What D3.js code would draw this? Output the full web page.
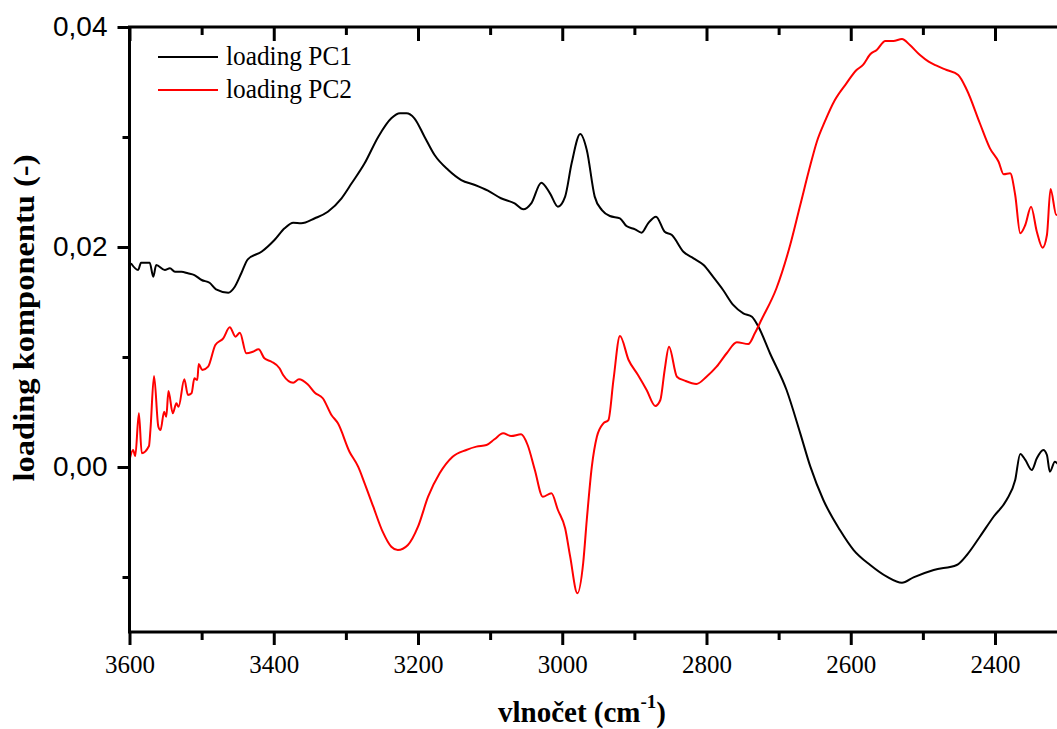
<!DOCTYPE html>
<html lang="cs">
<head>
<meta charset="UTF-8">
<title>loading PC1 / PC2</title>
<script src="https://cdn.jsdelivr.net/npm/d3@7"></script>
<style>
  body { margin: 0; background: #fff; }
  svg { display: block; }
</style>
</head>
<body>
<script>
// wavenumbers (cm-1) and loadings
let pc1Wn = [3598, 3588, 3584, 3572, 3567, 3563, 3551, 3544, 3537, 3528, 3519, 3510, 3500, 3489, 3480,
  3463, 3454, 3445, 3436, 3417, 3399, 3385, 3373, 3362, 3343, 3325, 3306, 3292, 3274, 3255, 3237, 3225,
  3216, 3205, 3191, 3177, 3158, 3140, 3121, 3103, 3085, 3066, 3054, 3043, 3029, 3017, 3006, 2996, 2987,
  2975, 2966, 2955, 2945, 2934, 2920, 2911, 2899, 2890, 2881, 2870, 2858, 2848, 2832, 2818, 2804, 2791,
  2777, 2763, 2749, 2737, 2728, 2712, 2689, 2670, 2656, 2638, 2615, 2596, 2573, 2550, 2529, 2513, 2485,
  2453, 2439, 2421, 2402, 2384, 2372, 2365, 2358, 2349, 2342, 2333, 2328, 2324, 2317, 2310];
let pc1Val = [0.01852, 0.01791, 0.01857, 0.01857, 0.01730, 0.01836, 0.01791, 0.01806, 0.01775, 0.01775,
  0.01761, 0.01745, 0.01700, 0.01675, 0.01615, 0.01585, 0.01639, 0.01761, 0.01888, 0.01957, 0.02064,
  0.02170, 0.02221, 0.02215, 0.02261, 0.02321, 0.02443, 0.02579, 0.02761, 0.03003, 0.03170, 0.03215,
  0.03215, 0.03170, 0.03003, 0.02836, 0.02700, 0.02609, 0.02564, 0.02512, 0.02443, 0.02397, 0.02343,
  0.02397, 0.02585, 0.02488, 0.02367, 0.02458, 0.02761, 0.03027, 0.02882, 0.02458, 0.02336, 0.02282,
  0.02261, 0.02191, 0.02161, 0.02130, 0.02215, 0.02276, 0.02139, 0.02109, 0.01957, 0.01897, 0.01836,
  0.01730, 0.01609, 0.01473, 0.01397, 0.01366, 0.01275, 0.01034, 0.00700, 0.00306, 0.00003, -0.00300,
  -0.00573, -0.00755, -0.00891, -0.00997, -0.01052, -0.01003, -0.00936, -0.00891, -0.00800, -0.00634,
  -0.00452, -0.00300, -0.00118, 0.00118, 0.00064, -0.00027, 0.00079, 0.00155, 0.00109, -0.00043,
  0.00048, -0.00001];

let pc2Wn = [3600, 3595, 3592, 3587, 3583, 3573, 3571, 3566, 3560, 3557, 3552, 3549, 3546, 3540, 3535,
  3532, 3524, 3519, 3514, 3510, 3506, 3504, 3499, 3491, 3481, 3470, 3461, 3453, 3447, 3438, 3429, 3421,
  3413, 3403, 3392, 3387, 3373, 3365, 3353, 3343, 3332, 3320, 3311, 3295, 3283, 3274, 3262, 3249, 3237,
  3228, 3214, 3200, 3186, 3170, 3152, 3133, 3119, 3105, 3094, 3082, 3071, 3057, 3048, 3038, 3027, 3015,
  3006, 2996, 2989, 2979, 2971, 2966, 2959, 2952, 2943, 2936, 2929, 2920, 2908, 2895, 2883, 2871, 2864,
  2858, 2852, 2841, 2830, 2814, 2800, 2786, 2772, 2758, 2742, 2733, 2724, 2703, 2684, 2670, 2656, 2647,
  2636, 2622, 2606, 2592, 2583, 2573, 2564, 2552, 2541, 2529, 2518, 2504, 2492, 2481, 2467, 2451, 2439,
  2421, 2407, 2395, 2388, 2379, 2372, 2365, 2358, 2350, 2342, 2334, 2328, 2323, 2315, 2310];
let pc2Val = [0.00064, 0.00155, 0.00100, 0.00488, 0.00125, 0.00191, 0.00336, 0.00827, 0.00366, 0.00336,
  0.00503, 0.00457, 0.00691, 0.00488, 0.00579, 0.00548, 0.00797, 0.00655, 0.00670, 0.00806, 0.00791,
  0.00936, 0.00882, 0.00912, 0.01109, 0.01170, 0.01270, 0.01185, 0.01221, 0.01034, 0.01048, 0.01070,
  0.00988, 0.00957, 0.00897, 0.00836, 0.00766, 0.00797, 0.00752, 0.00675, 0.00625, 0.00473, 0.00397,
  0.00139, 0.00003, -0.00148, -0.00361, -0.00588, -0.00725, -0.00755, -0.00709, -0.00543, -0.00270,
  -0.00057, 0.00094, 0.00155, 0.00185, 0.00200, 0.00252, 0.00306, 0.00282, 0.00297, 0.00200, -0.00027,
  -0.00270, -0.00239, -0.00391, -0.00557, -0.00815, -0.01148, -0.00875, -0.00482, 0.00003, 0.00275,
  0.00397, 0.00427, 0.00791, 0.01191, 0.00973, 0.00836, 0.00700, 0.00555, 0.00609, 0.00882, 0.01094,
  0.00821, 0.00785, 0.00755, 0.00821, 0.00912, 0.01034, 0.01134, 0.01118, 0.01215, 0.01336, 0.01625,
  0.02018, 0.02382, 0.02745, 0.02957, 0.03139, 0.03336, 0.03488, 0.03609, 0.03655, 0.03752, 0.03791,
  0.03873, 0.03873, 0.03891, 0.03836, 0.03745, 0.03685, 0.03648, 0.03609, 0.03564, 0.03427, 0.03125,
  0.02897, 0.02775, 0.02661, 0.02670, 0.02473, 0.02125, 0.02200, 0.02366, 0.02139, 0.01994, 0.02109,
  0.02527, 0.02291, 0.02320];

let seriesNames = ['loading PC1', 'loading PC2'];
let seriesColors = ['#000000', '#ff0000'];
let xMajorTicks = [3600, 3400, 3200, 3000, 2800, 2600, 2400];
let xMinorTicks = [3500, 3300, 3100, 2900, 2700, 2500, 2300];
let yMajorTicks = [0.00, 0.02, 0.04];
let yMinorTicks = [-0.01, 0.01, 0.03];

let serif = '"Liberation Serif", "Times New Roman", serif';
let sans = '"Liberation Sans", Arial, sans-serif';

let width = 1057;
let height = 729;
let plotLeft = 129.5;
let plotTop = 27;
let plotBottom = 632;

let svg = d3.select('body')
  .append('svg')
  .attr('width', width)
  .attr('height', height);

let x = d3.scaleLinear()
  .domain([3600, 2400])
  .range([plotLeft, 995]);
let plotRight = x(2300);
let y = d3.scaleLinear()
  .domain([-0.015, 0.04])
  .range([plotBottom, plotTop]);

svg.append('clipPath')
  .attr('id', 'plot-clip')
  .append('rect')
  .attr('x', plotLeft)
  .attr('y', plotTop)
  .attr('width', plotRight - plotLeft)
  .attr('height', plotBottom - plotTop);

// curves
let line = d3.line()
  .x(d => x(d[0]))
  .y(d => y(d[1]))
  .curve(d3.curveMonotoneX);

let series = [d3.zip(pc1Wn, pc1Val), d3.zip(pc2Wn, pc2Val)];
svg.append('g')
  .attr('clip-path', 'url(#plot-clip)')
  .selectAll('path')
  .data(series)
  .join('path')
  .attr('d', line)
  .attr('fill', 'none')
  .attr('stroke', (d, i) => seriesColors[i])
  .attr('stroke-width', 2)
  .attr('stroke-linejoin', 'round');

// axes
function styleAxis(g) {
  g.select('.domain').remove();
  g.selectAll('.tick line').attr('stroke', '#000').attr('stroke-width', 3);
}

let fmtY = v => d3.format('.2f')(v).replace('.', ',').replace('-0,00', '0,00');

svg.append('g')
  .attr('transform', 'translate(0,' + plotBottom + ')')
  .call(d3.axisBottom(x).tickValues(xMajorTicks).tickSize(13).tickPadding(10).tickFormat(d3.format('d')))
  .call(styleAxis)
  .call(g => g.selectAll('.tick text')
    .style('font-family', serif)
    .style('font-size', '25px')
    .attr('fill', '#000'));

svg.append('g')
  .attr('transform', 'translate(0,' + plotBottom + ')')
  .call(d3.axisBottom(x).tickValues(xMinorTicks).tickSize(8).tickFormat(''))
  .call(styleAxis);

svg.append('g')
  .attr('transform', 'translate(0,' + plotTop + ')')
  .call(d3.axisBottom(x).tickValues(xMajorTicks.concat(xMinorTicks)).tickSize(0).tickFormat(''))
  .call(styleAxis)
  .call(g => g.selectAll('.tick line')
    .attr('y2', d => xMajorTicks.includes(d) ? 14 : 8));

svg.append('g')
  .attr('transform', 'translate(' + plotLeft + ',0)')
  .call(d3.axisLeft(y).tickValues(yMajorTicks).tickSize(12).tickPadding(10).tickFormat(fmtY))
  .call(styleAxis)
  .call(g => g.selectAll('.tick text')
    .style('font-family', sans)
    .style('font-size', '28px')
    .attr('fill', '#000'));

svg.append('g')
  .attr('transform', 'translate(' + plotLeft + ',0)')
  .call(d3.axisLeft(y).tickValues(yMinorTicks).tickSize(7).tickFormat(''))
  .call(styleAxis);

// frame
svg.append('rect')
  .attr('x', plotLeft)
  .attr('y', plotTop)
  .attr('width', plotRight - plotLeft)
  .attr('height', plotBottom - plotTop)
  .attr('fill', 'none')
  .attr('stroke', '#000')
  .attr('stroke-width', 3);

// legend
let legend = svg.append('g')
  .style('font-family', serif);
seriesNames.forEach((name, i) => {
  let ly = 57 + i * 33;
  legend.append('line')
    .attr('x1', 158).attr('x2', 218)
    .attr('y1', ly).attr('y2', ly)
    .attr('stroke', seriesColors[i])
    .attr('stroke-width', 2);
  legend.append('text')
    .attr('x', 226)
    .attr('y', ly + 8)
    .attr('font-size', 27)
    .attr('textLength', 126)
    .attr('lengthAdjust', 'spacingAndGlyphs')
    .text(name);
});

// axis titles
let xTitle = svg.append('text')
  .style('font-family', serif)
  .attr('x', 582)
  .attr('y', 722)
  .attr('text-anchor', 'middle')
  .attr('font-size', 29)
  .attr('font-weight', 'bold');
xTitle.append('tspan').text('vlnočet (cm');
xTitle.append('tspan').attr('font-size', 19).attr('dy', -14).text('-1');
xTitle.append('tspan').attr('dy', 14).text(')');

svg.append('text')
  .style('font-family', serif)
  .attr('transform', 'translate(34,318) rotate(-90)')
  .attr('text-anchor', 'middle')
  .attr('font-size', 29)
  .attr('font-weight', 'bold')
  .attr('textLength', 327)
  .attr('lengthAdjust', 'spacingAndGlyphs')
  .text('loading komponentu (-)');
</script>
</body>
</html>
